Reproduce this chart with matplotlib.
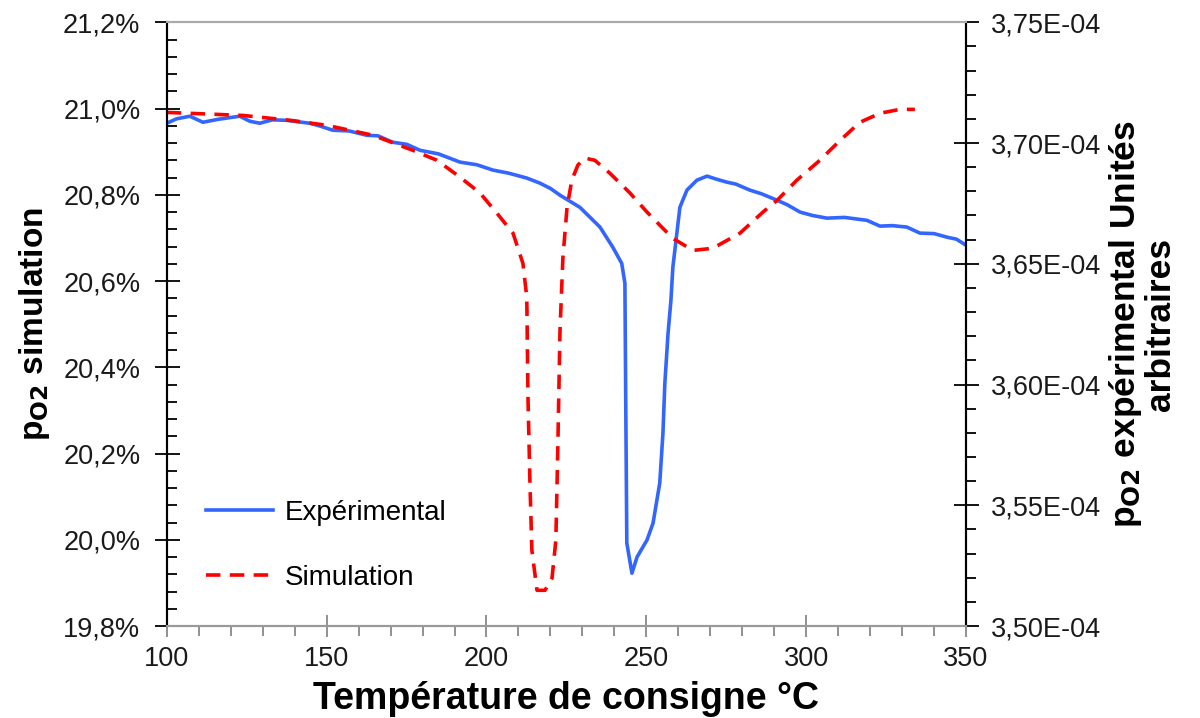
import matplotlib
matplotlib.use('Agg')
import matplotlib.pyplot as plt
from matplotlib.ticker import MultipleLocator, FuncFormatter

plt.rcParams['font.family'] = ['Liberation Sans', 'DejaVu Sans']
plt.rcParams['mathtext.default'] = 'regular'

# simulation (left axis, %)
t_sim = [100, 123.8, 139.4, 150.1, 164.5, 177.0, 184.5, 191.7, 198.0, 203.3,
         208.3, 211.4, 212.6, 213.0, 213.6, 214.2, 215.8, 218.3, 220.5, 221.7,
         222.3, 223.0, 223.9, 225.2, 226.7, 228.6, 230.8, 233.9, 238.6, 244.9,
         250.2, 254.3, 258.3, 264.6, 270.8, 279.3, 286.5, 290.9, 297.1, 304.3,
         310.6, 316.8, 323.1, 329.3, 334.0]
p_sim = [20.991, 20.984, 20.972, 20.961, 20.938, 20.903, 20.880, 20.841, 20.804, 20.757,
         20.711, 20.641, 20.563, 20.324, 20.131, 19.976, 19.883, 19.883, 19.911, 19.999,
         20.208, 20.486, 20.653, 20.771, 20.834, 20.869, 20.885, 20.880, 20.850, 20.804,
         20.760, 20.729, 20.699, 20.671, 20.676, 20.711, 20.760, 20.787, 20.834, 20.880,
         20.926, 20.968, 20.989, 20.998, 20.998]

# experimental (right axis, x1e-4 arbitrary units)
t_exp = [100, 103, 107.2, 111.3, 116, 122.8, 126, 129.1, 133, 137.5, 141, 144.7,
         148, 151.9, 157, 162.6, 166, 170.7, 175, 179.2, 185, 191.7, 197, 202.0,
         207, 212.6, 216.7, 220, 223.0, 229.2, 235.5, 239.5, 242.3, 243.3, 243.6,
         243.9, 245.5, 247.1, 250.2, 252.1, 254.2, 255.2, 255.8, 256.8, 257.7,
         258.3, 259.3, 260.5, 262.7, 265.8, 269.0, 272, 275.2, 278, 282.4, 286,
         290.9, 294, 298.1, 302, 306.5, 312, 319.0, 323.1, 327, 331.5, 335.6,
         340, 344.1, 347, 350]
p_exp = [3.7082, 3.7100, 3.7111, 3.7086, 3.7098, 3.7111, 3.7090, 3.7082, 3.7096, 3.7094,
         3.7088, 3.7082, 3.7070, 3.7053, 3.7050, 3.7032, 3.7030, 3.7003, 3.6995, 3.6970,
         3.6955, 3.6921, 3.6910, 3.6888, 3.6875, 3.6855, 3.6834, 3.6812, 3.6784, 3.6734,
         3.6652, 3.6569, 3.6502, 3.6420, 3.5865, 3.5344, 3.5219, 3.5286, 3.5356, 3.5426,
         3.5592, 3.5799, 3.6006, 3.6213, 3.6349, 3.6486, 3.6598, 3.6734, 3.6805, 3.6846,
         3.6863, 3.6850, 3.6838, 3.6830, 3.6805, 3.6790, 3.6763, 3.6745, 3.6714, 3.6700,
         3.6689, 3.6692, 3.6680, 3.6656, 3.6658, 3.6652, 3.6627, 3.6625, 3.6610, 3.6602,
         3.6577]

fig = plt.figure(figsize=(12, 7.18), dpi=100)
ax = fig.add_axes([0.139, 0.128, 0.666, 0.841])
ax2 = ax.twinx()

l1, = ax2.plot(t_exp, p_exp, color='#3366ff', lw=2.6, label='Expérimental')
l2, = ax.plot(t_sim, p_sim, color='#ff0000', lw=2.6, ls=(0, (4, 2.6)), label='Simulation')
ax.set_zorder(ax2.get_zorder() + 1)
ax.patch.set_visible(False)

ax.set_xlim(100, 350)
ax.set_ylim(19.8, 21.2)
ax2.set_ylim(3.50, 3.75)

ax.xaxis.set_major_locator(MultipleLocator(50))
ax.xaxis.set_minor_locator(MultipleLocator(10))
ax.yaxis.set_major_locator(MultipleLocator(0.2))
ax.yaxis.set_minor_locator(MultipleLocator(0.04))
ax2.yaxis.set_major_locator(MultipleLocator(0.05))
ax2.yaxis.set_minor_locator(MultipleLocator(0.01))

ax.yaxis.set_major_formatter(FuncFormatter(lambda v, p: ('%.1f%%' % v).replace('.', ',')))
ax2.yaxis.set_major_formatter(FuncFormatter(lambda v, p: ('%.2fE-04' % v).replace('.', ',')))

for a in (ax, ax2):
    for s in a.spines.values():
        s.set_linewidth(1.5)
    a.spines['top'].set_color('#aaaaaa')
    a.spines['bottom'].set_color('#999999')
ax.spines['left'].set_color('black')
ax2.spines['right'].set_color('black')

tick_col = '#1a1a1a'
ax.tick_params(axis='x', which='major', direction='inout', length=16, width=1.3,
               color='#888888', labelsize=19.5, pad=6, labelcolor=tick_col)
ax.tick_params(axis='x', which='minor', direction='out', length=7, width=1.3, color='#888888')
ax.tick_params(axis='y', which='major', direction='inout', length=18, width=1.3,
               labelsize=19.5, pad=10, labelcolor=tick_col)
ax.tick_params(axis='y', which='minor', direction='in', length=7, width=1.3)
ax2.tick_params(axis='y', which='major', direction='inout', length=18, width=1.3,
                labelsize=19.5, pad=9, labelcolor=tick_col)
ax2.tick_params(axis='y', which='minor', direction='out', length=7, width=1.3)

ax.set_xlabel('Température de consigne °C', fontsize=27, fontweight='bold', labelpad=7)
ax.set_ylabel('p$_{\\mathbf{O2}}$ simulation', fontsize=24, fontweight='bold', labelpad=8)
ax2.set_ylabel('p$_{\\mathbf{O2}}$ expérimental Unités\narbitraires', fontsize=25.5,
               fontweight='bold', labelpad=4, linespacing=1.0)

ax.legend([l1, l2], ['Expérimental', 'Simulation'], loc='lower left',
          bbox_to_anchor=(0.035, 0.04), frameon=False, fontsize=20,
          handlelength=2.4, handletextpad=0.45, labelspacing=1.4, borderaxespad=0)

fig.savefig('out.png', dpi=100)
